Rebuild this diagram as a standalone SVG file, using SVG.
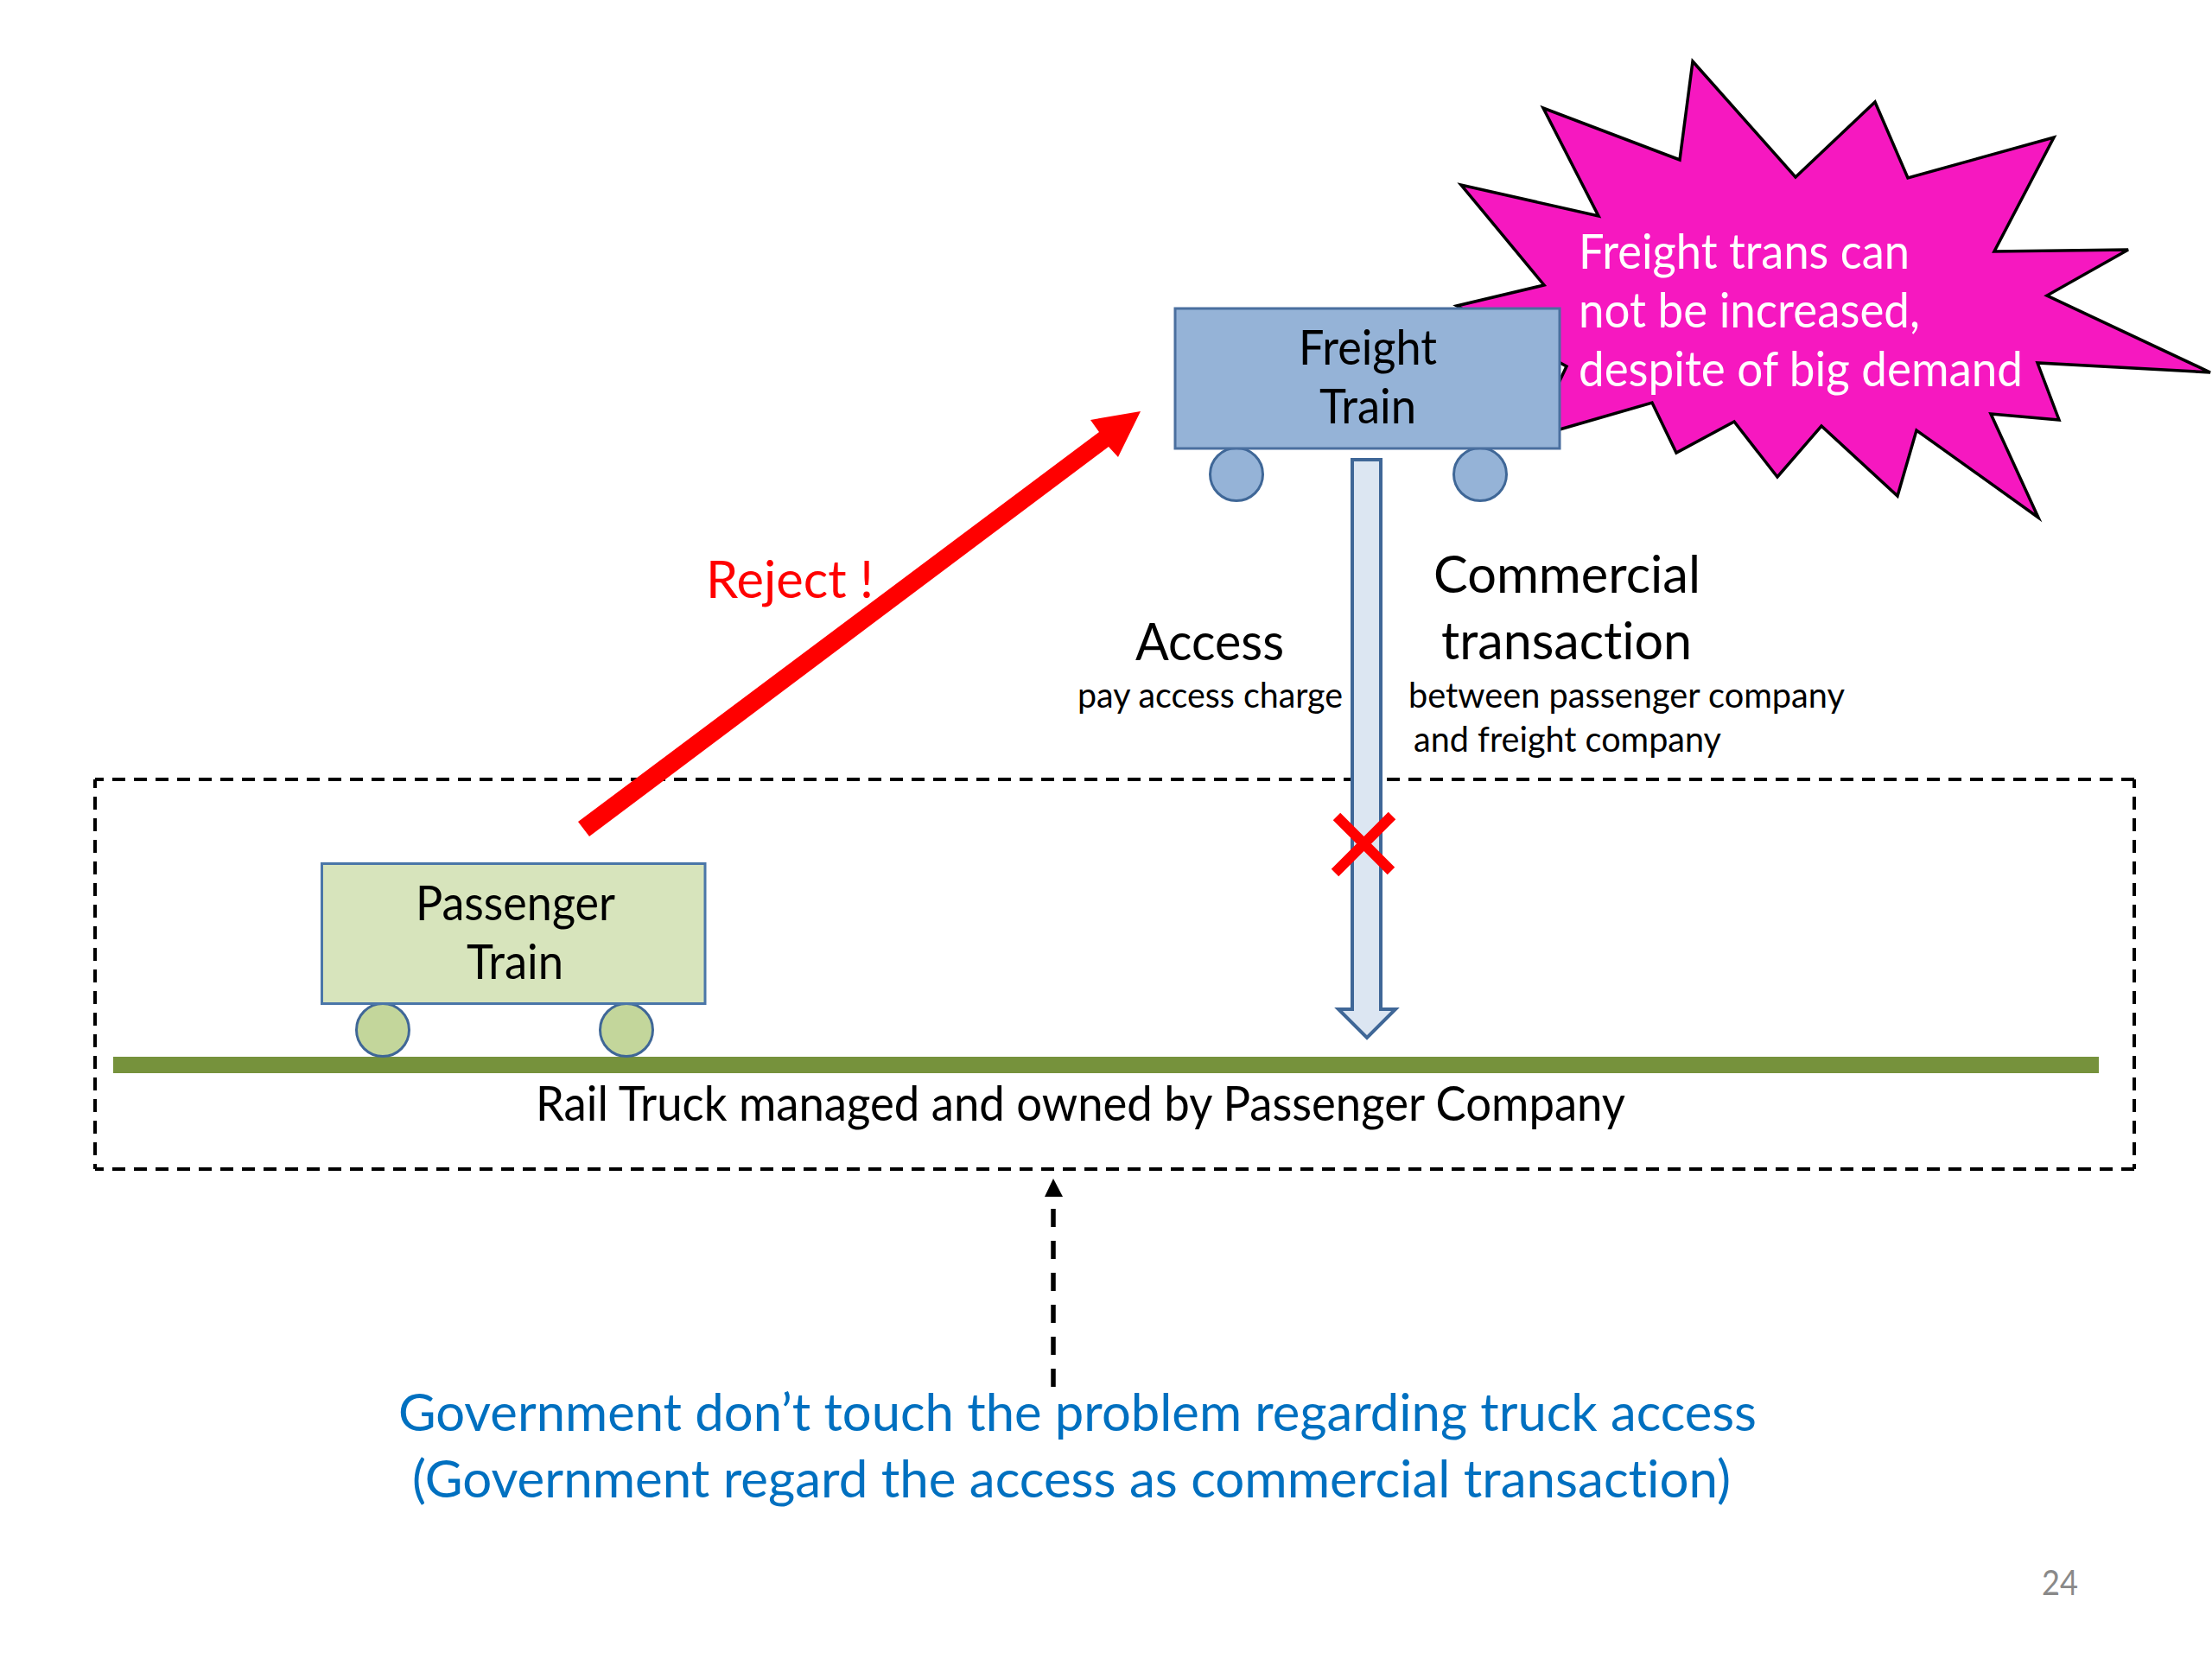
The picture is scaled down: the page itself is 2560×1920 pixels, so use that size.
<svg xmlns="http://www.w3.org/2000/svg" width="2560" height="1920" viewBox="0 0 2560 1920">
<style>
text{font-family:"Lato","Carlito","Noto Sans",sans-serif;fill:#000;font-variant-ligatures:none}
.big{font-size:60px}
.mid{font-size:56px}
.small{font-size:41px}
.blue{font-size:60px;fill:#0070c0}
.car{stroke-width:3}
.fr{fill:#95b3d7;stroke:#4a6f9f}
.pa{fill:#d7e4bc;stroke:#4a76a8}
.wf{fill:#95b3d7;stroke:#3f6797}
.wp{fill:#c3d69b;stroke:#3f6797}
</style>
<rect width="2560" height="1920" fill="#fff"/>
<g id="star">
<polygon fill="#f618c0" stroke="#000" stroke-width="3.5" stroke-linejoin="miter" points="1959,71 2078,205 2170,118 2208,206 2377,159 2308,291 2463,289 2369,342 2558,431 2358,420 2383,486 2304,479 2359,599 2218,498 2196,574 2108,493 2057,552 2007,488 1940,524 1912,466 1805,497 1774,506 1813,424 1686,354 1787,330 1691,214 1850,250 1786,125 1944,185"/>
<text x="1827" y="311" class="mid" style="fill:#fff" textLength="383" lengthAdjust="spacingAndGlyphs">Freight trans can</text>
<text x="1827" y="379" class="mid" style="fill:#fff" textLength="395" lengthAdjust="spacingAndGlyphs">not be increased,</text>
<text x="1827" y="447" class="mid" style="fill:#fff" textLength="514" lengthAdjust="spacingAndGlyphs">despite of big demand</text>
</g>
<g id="track">
<rect x="131" y="1223" width="2298" height="19" fill="#76923c"/>
</g>
<g id="boundary">
<path d="M110 902H2470M110 1353H2470M110 902V1353M2470 902V1353" fill="none" stroke="#000" stroke-width="4" stroke-dasharray="15 10" stroke-dashoffset="5"/>
</g>
<g id="freight-train">
<circle class="car wf" cx="1431" cy="549" r="30.5"/>
<circle class="car wf" cx="1713" cy="549" r="30.5"/>
<rect class="car fr" x="1360" y="357" width="445" height="162"/>
<text x="1503" y="422" class="mid" textLength="160" lengthAdjust="spacingAndGlyphs">Freight</text>
<text x="1527" y="490" class="mid" textLength="112" lengthAdjust="spacingAndGlyphs">Train</text>
</g>
<g id="passenger-train">
<circle class="car wp" cx="443" cy="1192" r="30.5"/>
<circle class="car wp" cx="725" cy="1192" r="30.5"/>
<rect class="car pa" x="372.5" y="999.5" width="443.5" height="162"/>
<text x="481" y="1065" class="mid" textLength="231" lengthAdjust="spacingAndGlyphs">Passenger</text>
<text x="540" y="1133" class="mid" textLength="112" lengthAdjust="spacingAndGlyphs">Train</text>
</g>
<g id="connectors">
<polygon id="access-arrow" fill="#dce6f2" stroke="#3f6797" stroke-width="4" points="1565,532 1598,532 1598,1168 1615,1168 1582,1201 1549,1168 1565,1168"/>
<polygon id="reject-arrow" fill="#f00" points="669,951 1272,500 1262,486 1320,476 1294,529 1283,517 682,968"/>
<path id="cross" d="M1547 945L1610 1008M1611 944L1545 1010" fill="none" stroke="#f00" stroke-width="12"/>
<path id="gov-line" d="M1219 1605V1392" fill="none" stroke="#000" stroke-width="5.5" stroke-dasharray="21 16"/>
<polygon id="gov-head" points="1219,1364 1230,1385 1209,1385" fill="#000"/>
</g>
<g id="labels">
<text x="817" y="692" class="big" style="fill:#f00" textLength="194" lengthAdjust="spacingAndGlyphs">Reject !</text>
<text x="1314" y="764" class="big" textLength="172" lengthAdjust="spacingAndGlyphs">Access</text>
<text x="1247" y="819" class="small" textLength="307" lengthAdjust="spacingAndGlyphs">pay access charge</text>
<text x="1659" y="686" class="big" textLength="309" lengthAdjust="spacingAndGlyphs">Commercial</text>
<text x="1668" y="763" class="big" textLength="290" lengthAdjust="spacingAndGlyphs">transaction</text>
<text x="1630" y="819" class="small" textLength="505" lengthAdjust="spacingAndGlyphs">between passenger company</text>
<text x="1636" y="870" class="small" textLength="356" lengthAdjust="spacingAndGlyphs">and freight company</text>
<text x="620" y="1297" class="mid" textLength="1261" lengthAdjust="spacingAndGlyphs">Rail Truck managed and owned by Passenger Company</text>
<text x="461" y="1656" class="blue" textLength="1572" lengthAdjust="spacingAndGlyphs">Government don’t touch the problem regarding truck access</text>
<text x="477" y="1733" class="blue" textLength="1526" lengthAdjust="spacingAndGlyphs">(Government regard the access as commercial transaction)</text>
<text x="2363" y="1846" font-size="40" style="fill:#898989" textLength="42" lengthAdjust="spacingAndGlyphs">24</text>
</g>
</svg>
